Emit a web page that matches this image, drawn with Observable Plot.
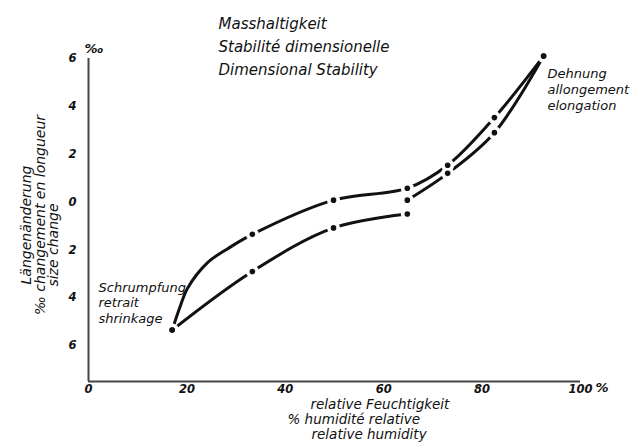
<!DOCTYPE html>
<html>
<head>
<meta charset="utf-8">
<script src="https://cdn.jsdelivr.net/npm/d3@7"></script>
<script src="https://cdn.jsdelivr.net/npm/@observablehq/plot@0.6"></script>
<style>
  html, body { margin: 0; padding: 0; background: #ffffff; }
  #chart { width: 637px; height: 448px; }
  svg text { font-family: "DejaVu Sans", sans-serif; font-style: italic; }
</style>
</head>
<body>
<div id="chart"></div>
<script>
// ---- data ----
// measured points: relative humidity (%) and length change (‰)
const humidityUpper = [17, 33.3, 49.8, 64.8, 73, 82.5, 92.5];
const changeUpper   = [-5.35, -1.35, 0.08, 0.58, 1.54, 3.53, 6.1];
const humidityLowerA = [17, 33.3, 49.8, 64.8];
const changeLowerA   = [-5.35, -2.9, -1.08, -0.5];
const humidityLowerB = [64.8, 73, 82.5, 92.5];
const changeLowerB   = [0.08, 1.2, 2.9, 6.1];
// extra points (shape only, no dot)
const humidityUpperTrace = [18.7, 20.1, 24.2, 28.3];
const changeUpperTrace   = [-4.32, -3.61, -2.53, -1.95];

const xTicks = [0, 20, 40, 60, 80, 100];
const yTicks = [6, 4, 2, 0, -2, -4, -6];

const titleLines = ["Masshaltigkeit", "Stabilité dimensionelle", "Dimensional Stability"];
const yLabelLines = ["Längenänderung", "‰ changement en longueur", "size change"];
const xLabelLines = ["relative Feuchtigkeit", "% humidité relative", "relative humidity"];
const shrinkLines = ["Schrumpfung", "retrait", "shrinkage"];
const elongLines = ["Dehnung", "allongement", "elongation"];

// ---- build tables ----
const points = [];
humidityUpper.forEach((h, i) => points.push({series: "upper", rh: h, change: changeUpper[i]}));
humidityLowerA.forEach((h, i) => points.push({series: "lowerA", rh: h, change: changeLowerA[i]}));
humidityLowerB.forEach((h, i) => points.push({series: "lowerB", rh: h, change: changeLowerB[i]}));

const lineRows = points.concat(
  humidityUpperTrace.map((h, i) => ({series: "upper", rh: h, change: changeUpperTrace[i]}))
);
lineRows.sort((a, b) => d3.ascending(a.series, b.series) || d3.ascending(a.rh, b.rh));

const ink = "#111";
const axisInk = "#444";

const chart = Plot.plot({
  width: 637,
  height: 448,
  marginLeft: 88,
  marginRight: 57,
  marginTop: 58,
  marginBottom: 67,
  style: {background: "#ffffff", fontFamily: "DejaVu Sans", fontStyle: "italic"},
  x: {domain: [0, 100]},
  y: {domain: [-7.5, 6]},
  marks: [
    // axis lines
    Plot.ruleX([0], {y1: -7.5, y2: 6, stroke: axisInk, strokeWidth: 2}),
    Plot.ruleY([-7.5], {x1: 0, x2: 100, stroke: axisInk, strokeWidth: 2}),
    Plot.axisX(xTicks, {
      tickSize: 0, tickPadding: 3, fontSize: 11.5, fontWeight: "bold", fill: ink,
      tickFormat: d => String(d), label: null
    }),
    Plot.text(["%"], {frameAnchor: "bottom-right", dx: 28, dy: 10, fontSize: 13, fontWeight: "bold", fill: ink}),
    Plot.axisY(yTicks, {
      tickSize: 0, tickPadding: 12, fontSize: 11.5, fontWeight: "bold", fill: ink,
      tickFormat: d => String(Math.abs(d)), label: null
    }),
    Plot.text(["‰"], {frameAnchor: "top-left", dx: -4, dy: -15, fontSize: 13, fontWeight: "bold", fill: ink}),

    // curves
    Plot.line(lineRows, {x: "rh", y: "change", z: "series", curve: "catmull-rom", stroke: ink, strokeWidth: 3}),
    // measured points with white gap around them
    Plot.dot(points, {x: "rh", y: "change", r: 6.5, fill: "#ffffff", stroke: null}),
    Plot.dot(points, {x: "rh", y: "change", r: 2.8, fill: ink, stroke: null}),

    // title
    Plot.text([titleLines.join("\n")], {
      frameAnchor: "top-left", dx: 130, dy: -46, lineAnchor: "top", textAnchor: "start",
      lineHeight: 1.53, fontSize: 15, fill: ink
    }),
    // y label (three rotated lines)
    Plot.text([yLabelLines[0]], {frameAnchor: "left", dx: -62, dy: 5, rotate: -90, textAnchor: "middle", fontSize: 14, fill: ink}),
    Plot.text([yLabelLines[1]], {frameAnchor: "left", dx: -48, dy: -5, rotate: -90, textAnchor: "middle", fontSize: 14, fill: ink}),
    Plot.text([yLabelLines[2]], {frameAnchor: "left", dx: -35, dy: 25, rotate: -90, textAnchor: "middle", fontSize: 14, fill: ink}),
    // x label
    Plot.text([xLabelLines[0]], {frameAnchor: "bottom-left", dx: 222, dy: 27, textAnchor: "start", fontSize: 13.5, fill: ink}),
    Plot.text([xLabelLines[1]], {frameAnchor: "bottom-left", dx: 199, dy: 42, textAnchor: "start", fontSize: 13.5, fill: ink}),
    Plot.text([xLabelLines[2]], {frameAnchor: "bottom-left", dx: 223, dy: 57, textAnchor: "start", fontSize: 13.5, fill: ink}),
    // annotations
    Plot.text([shrinkLines.join("\n")], {
      frameAnchor: "top-left", dx: 10, dy: 222, lineAnchor: "top", textAnchor: "start",
      lineHeight: 1.2, fontSize: 13, fill: ink
    }),
    Plot.text([elongLines.join("\n")], {
      frameAnchor: "top-left", dx: 459, dy: 8, lineAnchor: "top", textAnchor: "start",
      lineHeight: 1.23, fontSize: 13, fill: ink
    })
  ]
});
document.getElementById("chart").appendChild(chart);
</script>
</body>
</html>
